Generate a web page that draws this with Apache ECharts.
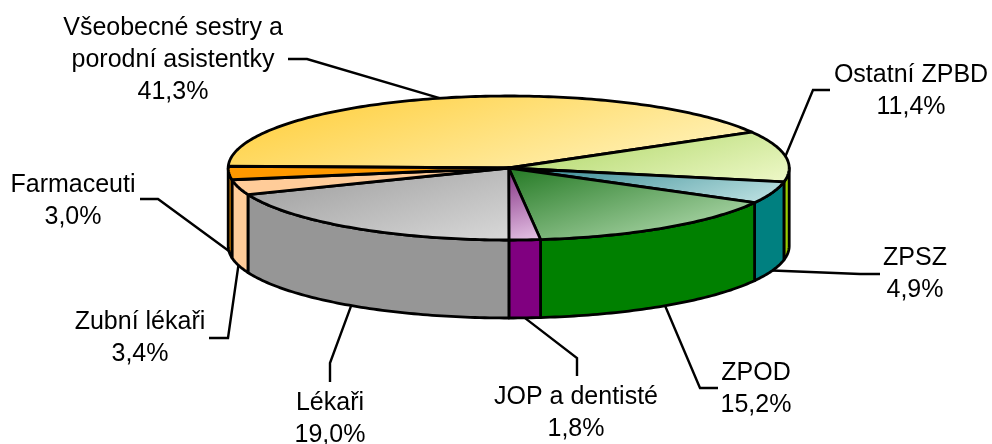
<!DOCTYPE html>
<html>
<head>
<meta charset="utf-8">
<style>html,body{margin:0;padding:0;background:#fff}#c{width:992px;height:444px}</style>
<script src="https://cdn.jsdelivr.net/npm/echarts@6/dist/echarts.min.js"></script>
</head>
<body>
<div id="c"></div>
<script>
// --- data (clockwise from the back-left of the pie) ---
const categories = ['Všeobecné sestry a\nporodní asistentky', 'Ostatní ZPBD', 'ZPSZ', 'ZPOD', 'JOP a dentisté', 'Lékaři', 'Zubní lékaři', 'Farmaceuti'];
const shares = [41.3, 11.4, 4.9, 15.2, 1.8, 19.0, 3.4, 3.0];

// --- styles ---
const wallColors = ['#FFCC66', '#99CC00', '#008080', '#008000', '#800080', '#969696', '#FFCC99', '#FF9900'];
const topDark = ['#FFCC33', '#A9D45F', '#2F858F', '#257A25', '#833083', '#9A9A9A', '#FFCC99', '#FF9900'];
const topLight = ['#FFF6C8', '#EEF8C8', '#C4E6E6', '#C0E4BC', '#E6C4E6', '#D8D8D8', '#FFCC99', '#FF9900'];

// --- layout ---
const pie = { cx: 508.7, cy: 168, rx: 280.5, ry: 72, depth: 78, startDeg: 271.4 };
const labelPos = [[173, 60], [911, 91], [915, 274], [756, 389], [576, 413], [330, 419], [140, 338], [73, 201]];
const leaderStart = [[288, 59], [830, 90], [880, 274], [718, 388], [577, 376], [330, 382], [209, 338], [140, 199]];
const leaderElbow = [[307, 59], [813, 90], [860, 274], [700, 388], [577, 358], [330, 363], [228, 338], [158, 199]];
const shadeDir = [0.3, 1];

const total = shares.reduce((a, b) => a + b, 0);
function rangeOf(i) {
  let s = pie.startDeg;
  for (let k = 0; k < i; k++) s += shares[k] / total * 360;
  return [s, s + shares[i] / total * 360];
}
function rim(deg, drop) {
  const t = deg * Math.PI / 180;
  return [pie.cx + pie.rx * Math.sin(t), pie.cy - pie.ry * Math.cos(t) + (drop || 0)];
}
function arc(a, b, drop) {
  const pts = [], n = Math.max(2, Math.ceil(Math.abs(b - a)));
  for (let j = 0; j <= n; j++) pts.push(rim(a + (b - a) * j / n, drop));
  return pts;
}
function frontRange(a, b) {
  // the visible wall lies between 90 and 270 degrees
  const shift = a >= 360 ? -360 : 0;
  const lo = Math.max(a + shift, 90), hi = Math.min(b + shift, 270);
  return hi > lo ? [lo, hi] : null;
}
function shade(points, i) {
  const xs = points.map(p => p[0]), ys = points.map(p => p[1]);
  const x0 = Math.min(...xs), y0 = Math.min(...ys);
  const w = Math.max(...xs) - x0, h = Math.max(...ys) - y0;
  const n = Math.hypot(shadeDir[0], shadeDir[1]);
  const ux = shadeDir[0] / n, uy = shadeDir[1] / n;
  const len = w * ux + h * uy;
  return new echarts.graphic.LinearGradient(x0, y0, x0 + ux * len, y0 + uy * len, [
    { offset: 0, color: topDark[i] }, { offset: 1, color: topLight[i] }
  ], true);
}
const edge = { stroke: '#000', lineWidth: 2.8, lineJoin: 'round' };

const option = {
  animation: false,
  backgroundColor: '#fff',
  series: [
    {
      type: 'custom', coordinateSystem: 'none', name: 'walls', z: 1, silent: true,
      data: shares,
      renderItem(params) {
        const i = params.dataIndex;
        const [a, b] = rangeOf(i);
        const f = frontRange(a, b) || frontRange(a - 360, b - 360);
        if (!f) return { type: 'group', children: [] };
        const points = arc(f[0], f[1], 0).concat(arc(f[1], f[0], pie.depth));
        return { type: 'polygon', shape: { points }, style: Object.assign({ fill: wallColors[i] }, edge) };
      }
    },
    {
      type: 'custom', coordinateSystem: 'none', name: 'tops', z: 2, silent: true,
      data: shares,
      renderItem(params) {
        const i = params.dataIndex;
        const [a, b] = rangeOf(i);
        const points = [[pie.cx, pie.cy]].concat(arc(a, b, 0));
        return {
          type: 'polygon', shape: { points },
          style: Object.assign({ fill: shade(points, i) }, edge)
        };
      }
    },
    {
      type: 'custom', coordinateSystem: 'none', name: 'callouts', z: 0, silent: true,
      data: shares,
      renderItem(params) {
        const i = params.dataIndex;
        const [a, b] = rangeOf(i);
        const mid = (a + b) / 2;
        const front = Math.cos(mid * Math.PI / 180) < 0;
        const anchor = rim(mid, front ? pie.depth : 0);
        const pct = shares[i].toFixed(1).replace('.', ',') + '%';
        return {
          type: 'group',
          children: [
            {
              type: 'polyline',
              shape: { points: [leaderStart[i], leaderElbow[i], anchor] },
              style: { stroke: '#000', lineWidth: 2.4, fill: null, lineJoin: 'miter' }
            },
            {
              type: 'text',
              style: {
                text: categories[i] + '\n' + pct,
                x: labelPos[i][0], y: labelPos[i][1],
                align: 'center', verticalAlign: 'middle',
                fontFamily: '"Liberation Sans", Arial, sans-serif',
                fontSize: 25, lineHeight: 32, fill: '#000'
              }
            }
          ]
        };
      }
    }
  ]
};
const chart = echarts.init(document.getElementById('c'), null, { renderer: 'canvas', width: 992, height: 444 });
chart.setOption(option);
</script>
</body>
</html>
